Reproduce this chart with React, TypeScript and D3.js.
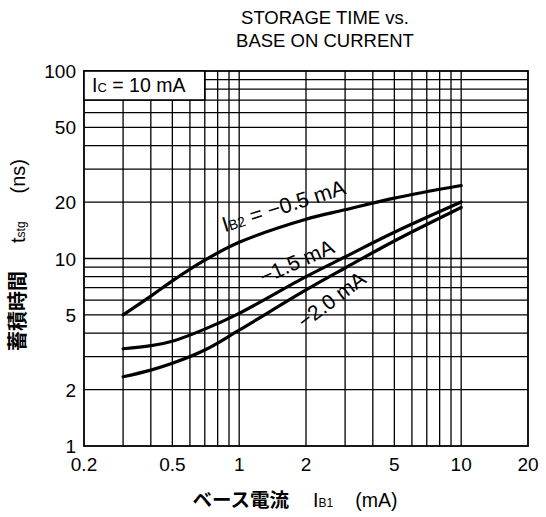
import React from "react";
import * as d3 from "d3";

const W = 546;
const H = 517;

const titleLines = ["STORAGE TIME vs.", "BASE ON CURRENT"];
const xTicks = [0.2, 0.5, 1, 2, 5, 10, 20];
const yTicks = [1, 2, 5, 10, 20, 50, 100];
const xGrid = [0.3, 0.4, 0.5, 0.6, 0.7, 0.8, 0.9, 1, 2, 3, 4, 5, 6, 7, 8, 9, 10];
const yGrid = [2, 3, 4, 5, 6, 7, 8, 9, 10, 20, 30, 40, 50, 60, 70, 80, 90];

const ib1 = [0.3, 0.4, 0.5, 0.7, 1, 2, 3, 5, 10];
const tIb05 = [5.0, 6.3, 7.6, 9.8, 12.2, 16.2, 18.2, 21.0, 24.5];
const tIb15 = [3.3, 3.43, 3.62, 4.2, 5.1, 8.0, 10.2, 13.8, 20.0];
const tIb20 = [2.34, 2.54, 2.76, 3.25, 4.15, 6.8, 8.9, 12.4, 18.7];

const series = [
  { name: "-0.5", values: tIb05 },
  { name: "-1.5", values: tIb15 },
  { name: "-2.0", values: tIb20 },
];

const M = { left: 84, right: 528, top: 71, bottom: 446 };
const FONT = "'Liberation Sans', Arial, Helvetica, sans-serif";
const JFONT = "'Noto Sans CJK JP', sans-serif";

export default function App() {
  const x = d3.scaleLog().domain([0.2, 20]).range([M.left, M.right]);
  const y = d3.scaleLog().domain([1, 100]).range([M.bottom, M.top]);
  const line = d3
    .line<number>()
    .x((_, i) => x(ib1[i]))
    .y((d) => y(d))
    .curve(d3.curveCatmullRom.alpha(0.5));

  const fmt = (v: number) => String(v);

  return (
    <svg width={W} height={H} style={{ position: "absolute", left: 0, top: 0, background: "#fff" }}>
      <rect x={0} y={0} width={W} height={H} fill="#fff" />
      {/* title */}
      <g fontFamily={FONT} fontSize={18.5} fill="#000" textAnchor="middle">
        <text x={325} y={24}>{titleLines[0]}</text>
        <text x={325} y={47}>{titleLines[1]}</text>
      </g>
      {/* grid */}
      <g stroke="#000" strokeWidth={1.3}>
        {xGrid.map((v) => (
          <line key={"gx" + v} x1={x(v)} x2={x(v)} y1={M.top} y2={M.bottom} />
        ))}
        {yGrid.map((v) => (
          <line key={"gy" + v} x1={M.left} x2={M.right} y1={y(v)} y2={y(v)} />
        ))}
      </g>
      <rect
        x={M.left}
        y={M.top}
        width={M.right - M.left}
        height={M.bottom - M.top}
        fill="none"
        stroke="#000"
        strokeWidth={1.8}
      />
      {/* Ic box */}
      <rect
        x={x(0.2)}
        y={y(100)}
        width={x(0.7) - x(0.2)}
        height={y(70) - y(100)}
        fill="#fff"
        stroke="#000"
        strokeWidth={1.6}
      />
      <text x={x(0.2) + 8} y={y(70) - 8} fontFamily={FONT} fontSize={19.5} fill="#000">
        I<tspan fontSize={13}>C</tspan> = 10 mA
      </text>
      {/* curves */}
      <g fill="none" stroke="#000" strokeWidth={3.2} strokeLinecap="round">
        {series.map((s) => (
          <path key={s.name} d={line(s.values) || ""} />
        ))}
      </g>
      {/* curve labels */}
      <g fontFamily={FONT} fill="#000">
        <text transform={`translate(${x(0.86)},${y(13.8)}) rotate(-17.5)`} fontSize={21.5}>
          I<tspan fontSize={14}>B2</tspan> = −0.5 mA
        </text>
        <text transform={`translate(${x(1.29)},${y(7.3)}) rotate(-24)`} fontSize={21}>
          −1.5 mA
        </text>
        <text transform={`translate(${x(1.97)},${y(4.2)}) rotate(-37)`} fontSize={21}>
          −2.0 mA
        </text>
      </g>
      {/* tick labels */}
      <g fontFamily={FONT} fontSize={19} fill="#000">
        {xTicks.map((v) => (
          <text key={"xt" + v} x={x(v)} y={M.bottom + 25} textAnchor="middle">
            {fmt(v)}
          </text>
        ))}
        {yTicks.map((v) => (
          <text key={"yt" + v} x={M.left - 8} y={y(v) + 7} textAnchor="end">
            {fmt(v)}
          </text>
        ))}
      </g>
      {/* axis titles */}
      <text x={295} y={507} textAnchor="middle" fill="#000" fontSize={19.5}>
        <tspan fontFamily={JFONT} fontWeight={700}>ベース電流</tspan>
        <tspan fontFamily={FONT} dx={24}>I</tspan>
        <tspan fontFamily={FONT} fontSize={12}>B1</tspan>
        <tspan fontFamily={FONT} dx={22}>(mA)</tspan>
      </text>
      <text
        transform={`translate(25,255) rotate(-90)`}
        textAnchor="middle"
        fill="#000"
        fontSize={20}
      >
        <tspan fontFamily={JFONT} fontWeight={700}>蓄積時間</tspan>
        <tspan fontFamily={FONT} dx={28}>t</tspan>
        <tspan fontFamily={FONT} fontSize={12}>stg</tspan>
        <tspan fontFamily={FONT} dx={28}>(ns)</tspan>
      </text>
    </svg>
  );
}
